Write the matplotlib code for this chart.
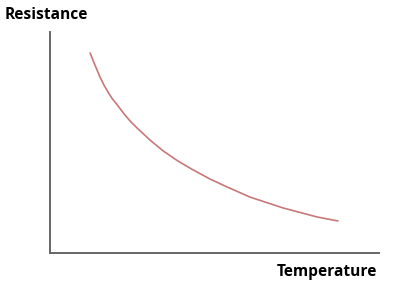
import matplotlib.pyplot as plt

# curve (arbitrary units, axes span 0..100)
temperature = [12.2, 13.4, 14.3, 15.2, 16.4, 17.6, 18.8, 20.7, 22.8, 24.6, 26.8,
               30.4, 34.4, 38.9, 43.5, 48.6, 53.8, 60.8, 70.8, 81.2, 87.5]
resistance = [90.5, 86.0, 82.8, 79.6, 76.0, 72.9, 70.1, 66.5, 62.4, 59.3, 56.1,
              51.1, 46.2, 41.6, 37.6, 33.5, 29.9, 25.3, 20.4, 16.3, 14.5]

x_label = 'Temperature'
y_label = 'Resistance'


def main():
    fig = plt.figure(figsize=(3.93, 2.97), dpi=100)
    ax = fig.add_axes([50 / 393, 44 / 297, 329 / 393, 221 / 297])
    ax.plot(temperature, resistance, color='#c87878', lw=1.2,
            solid_capstyle='round', solid_joinstyle='round')
    ax.set_xlim(0, 100)
    ax.set_ylim(0, 100)
    ax.set_xticks([])
    ax.set_yticks([])
    for side in ['top', 'right']:
        ax.spines[side].set_visible(False)
    for side in ['left', 'bottom']:
        ax.spines[side].set_color('#666666')
        ax.spines[side].set_linewidth(1.4)

    fig.text(5 / 393, 1 - 15 / 297, y_label, ha='left', va='center',
             fontsize=11.2, fontweight='bold', family='Open Sans')
    fig.text(377 / 393, 1 - 272 / 297, x_label, ha='right', va='center',
             fontsize=11.2, fontweight='bold', family='Open Sans')
    fig.savefig('out.png', dpi=100)


if __name__ == '__main__':
    main()
